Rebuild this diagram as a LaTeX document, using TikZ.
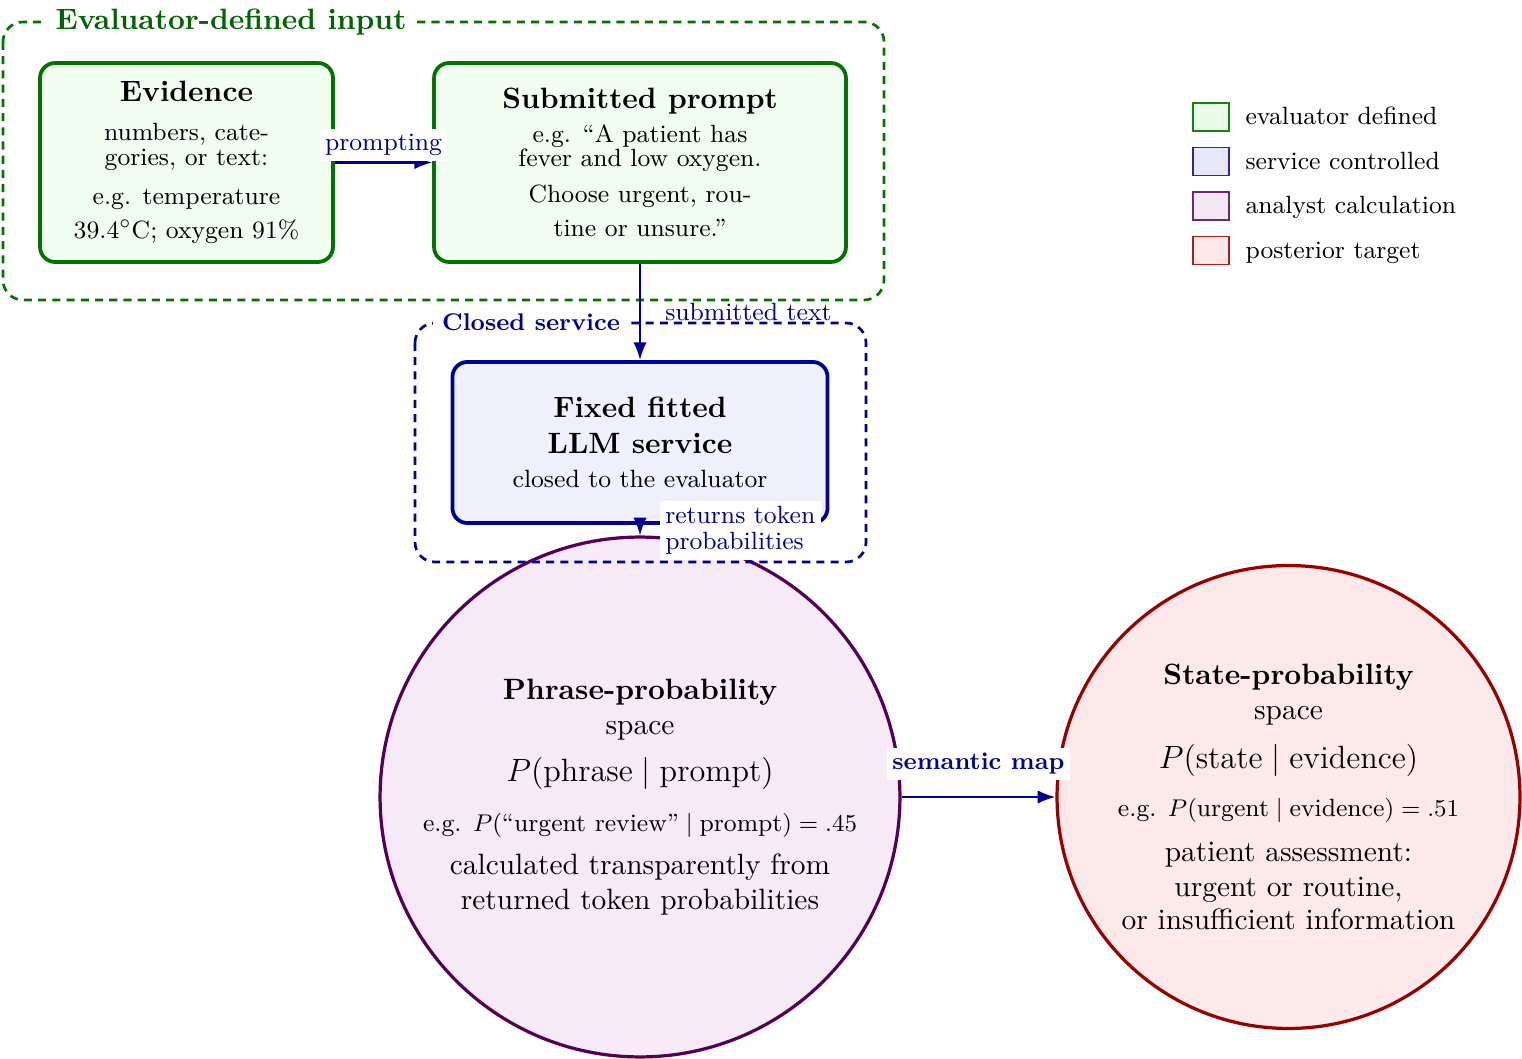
\documentclass[tikz,border=0pt]{standalone}
\usepackage{amsmath}
\usetikzlibrary{arrows.meta}
\definecolor{grnline}{RGB}{0,115,0}
\definecolor{grntitle}{RGB}{0,100,0}
\definecolor{grnfill}{RGB}{242,253,242}
\definecolor{bluline}{RGB}{0,0,150}
\definecolor{blufill}{RGB}{240,240,252}
\definecolor{purline}{RGB}{85,0,85}
\definecolor{purfill}{RGB}{245,234,245}
\definecolor{redline}{RGB}{153,0,0}
\definecolor{redfill}{RGB}{253,233,234}
\definecolor{lgfill}{RGB}{232,252,232}
\definecolor{lgline}{RGB}{20,130,20}
\definecolor{lbfill}{RGB}{231,231,250}
\definecolor{lbline}{RGB}{40,40,160}
\definecolor{lpfill}{RGB}{244,231,244}
\definecolor{lpline}{RGB}{110,40,110}
\definecolor{lrfill}{RGB}{253,231,231}
\definecolor{lrline}{RGB}{170,30,30}
\begin{document}
\begin{tikzpicture}[x=0.3724pt,y=-0.3724pt,
  box/.style={draw, rounded corners=5.6pt, line width=1.4pt, align=center, inner sep=0pt},
  circ/.style={circle, draw, line width=1.2pt, align=center, inner sep=0pt},
  arr/.style={-{Latex}, line width=0.8pt, draw=bluline},
  lbl/.style={text=bluline, font=\fontsize{9.3}{9.7}\selectfont, inner sep=2pt},
  lblw/.style={lbl, fill=white},
  cont/.style={dash pattern=on 3pt off 2.3pt, rounded corners=7.4pt, line width=1pt},
  legbox/.style={draw, line width=0.6pt, minimum width=13.4pt, minimum height=10.4pt, inner sep=0pt},
  legtxt/.style={anchor=base west, inner sep=0pt, font=\fontsize{9.3}{11}\selectfont},
  ctitle/.style={fill=white, font=\bfseries}
]
\useasboundingbox (0,0) rectangle (1522,1059);

% boxes
\node[box, draw=grnline, fill=grnfill, minimum width=109.1pt, minimum height=74.1pt,
  font=\fontsize{9.3}{9.3}\selectfont] (ev) at (186.5,162.5)
  {{\fontsize{10.95}{13}\selectfont\bfseries Evidence}\\[5.2pt]
   numbers, cate-\\ gories, or text:\\[5.2pt]
   e.g. temperature\\[3.7pt] 39.4$^\circ$C; oxygen 91\%};

\node[box, draw=grnline, fill=grnfill, minimum width=153.4pt, minimum height=74.1pt,
  font=\fontsize{9.3}{8.9}\selectfont] (pr) at (640,162.5)
  {{\fontsize{10.95}{13}\selectfont\bfseries Submitted prompt}\\[3.8pt]
   e.g. ``A patient has\\ fever and low oxygen.\\[4.5pt]
   Choose urgent, rou-\\[3.8pt] tine or unsure.''};

\node[box, draw=bluline, fill=blufill, minimum width=139.7pt, minimum height=60pt,
  font=\fontsize{9.3}{13.4}\selectfont] (llm) at (640,442.5)
  {{\fontsize{10.95}{13}\selectfont\bfseries Fixed fitted}\\
   {\fontsize{10.95}{13}\selectfont\bfseries LLM service}\\[-0.6pt]
   closed to the evaluator};

\node[circ, draw=purline, fill=purfill, minimum size=193.6pt,
  font=\fontsize{10.95}{13}\selectfont] (phr) at (640,797)
  {{\bfseries Phrase-probability}\\ space\\[4.5pt]
   {\large $P(\text{phrase}\mid\text{prompt})$}\\[5.6pt]
   {\fontsize{9.3}{11}\selectfont e.g. $P(\text{``urgent review''}\mid\text{prompt})=.45$}\\[3pt]
   calculated transparently from\\ returned token probabilities};

\node[circ, draw=redline, fill=redfill, minimum size=172.4pt,
  font=\fontsize{10.95}{13}\selectfont] (st) at (1288.5,797)
  {{\bfseries State-probability}\\ space\\[5.2pt]
   {\large $P(\text{state}\mid\text{evidence})$}\\[4.9pt]
   {\fontsize{9.3}{11}\selectfont e.g. $P(\text{urgent}\mid\text{evidence})=.51$}\\[3.8pt]
   patient assessment:\\ urgent or routine,\\[-0.7pt] or insufficient information};

% containers
\draw[cont, draw=grnline] (3,22) rectangle (884,300);
\draw[cont, draw=bluline] (415,323) rectangle (866,562);
\node[ctitle, text=grntitle, font=\fontsize{10.95}{13}\selectfont\bfseries] (gt) at (231,22) {Evaluator-defined input};
\node[ctitle, text=bluline, font=\fontsize{9}{11}\selectfont\bfseries] (bt) at (531,322) {Closed service};

% connectors
\draw[arr] (ev.east) -- (pr.west) node[lblw, midway, above] (l1) {prompting};
\draw[arr] (pr.south) -- (llm.north) node[lbl, midway, anchor=west, xshift=7pt] (l2) {submitted text};
\draw[arr] (llm.south) -- (phr.north) node[lblw, midway, anchor=west, xshift=7pt, align=left] (l3) {returns token\\probabilities};
\draw[arr] (phr.east) -- (st.west) node[lblw, midway, above, yshift=6pt, font=\fontsize{9}{9}\selectfont\bfseries] (l4) {semantic map};

% legend
\node[legbox, draw=lgline, fill=lgfill] (lg1) at (1211,117) {};
\node[legbox, draw=lbline, fill=lbfill] (lg2) at (1211,161.5) {};
\node[legbox, draw=lpline, fill=lpfill] (lg3) at (1211,206) {};
\node[legbox, draw=lrline, fill=lrfill] (lg4) at (1211,250.5) {};
\node[legtxt] (lt1) at (1245,125) {evaluator defined};
\node[legtxt] (lt2) at (1245,169.5) {service controlled};
\node[legtxt] (lt3) at (1245,214) {analyst calculation};
\node[legtxt] (lt4) at (1245,258.5) {posterior target};
\end{tikzpicture}
\end{document}
